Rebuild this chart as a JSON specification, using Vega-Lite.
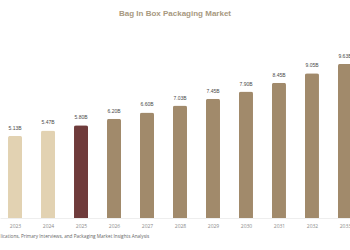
{
  "$schema": "https://vega.github.io/schema/vega-lite/v6.json",
  "width": 350,
  "height": 160,
  "autosize": {"type": "none"},
  "padding": {"top": 58, "left": 0, "right": 0, "bottom": 32},
  "background": "white",
  "title": {"text": "Bag In Box Packaging Market", "fontSize": 8, "font": "Liberation Sans", "fontWeight": "bold", "color": "#a8997f", "offset": 36, "anchor": "middle"},
  "config": {"view": {"stroke": null}},
  "data": {"values": [
    {"year": 2023, "value": 5.13, "label": "5.13B", "phase": "history"},
    {"year": 2024, "value": 5.47, "label": "5.47B", "phase": "history"},
    {"year": 2025, "value": 5.80, "label": "5.80B", "phase": "current"},
    {"year": 2026, "value": 6.20, "label": "6.20B", "phase": "forecast"},
    {"year": 2027, "value": 6.60, "label": "6.60B", "phase": "forecast"},
    {"year": 2028, "value": 7.03, "label": "7.03B", "phase": "forecast"},
    {"year": 2029, "value": 7.45, "label": "7.45B", "phase": "forecast"},
    {"year": 2030, "value": 7.90, "label": "7.90B", "phase": "forecast"},
    {"year": 2031, "value": 8.45, "label": "8.45B", "phase": "forecast"},
    {"year": 2032, "value": 9.05, "label": "9.05B", "phase": "forecast"},
    {"year": 2033, "value": 9.63, "label": "9.63B", "phase": "forecast"}
  ]},
  "encoding": {
    "x": {
      "field": "year", "type": "quantitative",
      "scale": {"domain": [2022.545, 2033.152], "nice": false, "zero": false, "padding": 0},
      "axis": {
        "values": [2023, 2024, 2025, 2026, 2027, 2028, 2029, 2030, 2031, 2032, 2033],
        "format": "d", "labelFontSize": 5, "labelColor": "#8a8a8a", "labelFont": "Open Sans",
        "labelFlush": false, "labelOverlap": false, "labelPadding": 5,
        "ticks": false, "grid": false, "domainColor": "#eeeeee",
        "title": "lications, Primary Interviews, and Packaging Market Insights Analysis",
        "titleFontSize": 4.7, "titleFontWeight": "normal", "titleColor": "#666666", "titleFont": "Open Sans",
        "titleAnchor": "start", "titleAlign": "left", "titleX": 0, "titleY": 18, "titleBaseline": "middle"
      }
    },
    "y": {"field": "value", "type": "quantitative", "scale": {"domain": [0, 10], "nice": false}, "axis": null}
  },
  "layer": [
    {
      "mark": {"type": "bar", "width": 14, "cornerRadiusTopLeft": 2, "cornerRadiusTopRight": 2},
      "encoding": {
        "color": {"field": "phase", "type": "nominal", "legend": null,
          "scale": {"domain": ["history", "current", "forecast"], "range": ["#e2d2b2", "#6f3b3b", "#a18a6b"]}}
      }
    },
    {
      "mark": {"type": "text", "dy": -5, "baseline": "bottom", "fontSize": 5, "font": "Liberation Sans", "fill": "#4a4a4a"},
      "encoding": {"text": {"field": "label"}}
    }
  ]
}
